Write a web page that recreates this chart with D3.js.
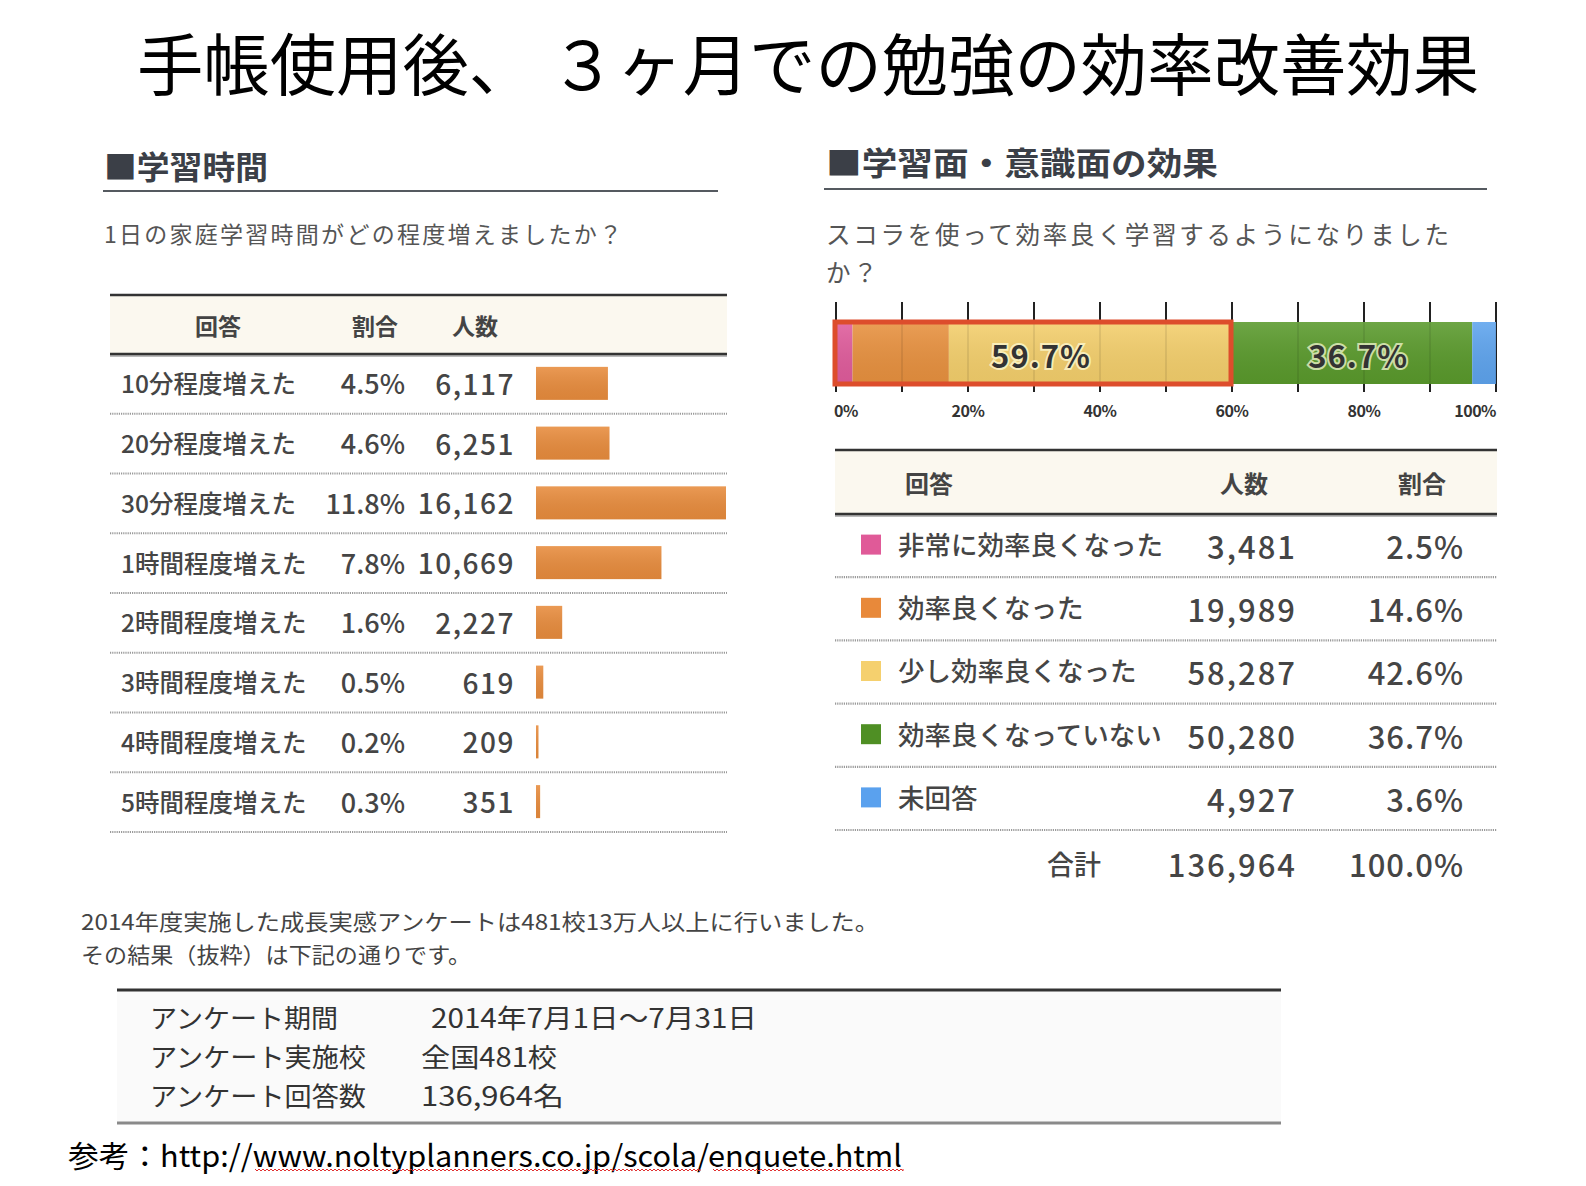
<!DOCTYPE html>
<html lang="ja">
<head>
<meta charset="utf-8">
<script src="https://cdn.jsdelivr.net/npm/d3@7"></script>
<style>
  html, body { margin: 0; padding: 0; background: #fff; }
  svg { display: block; }
  text { font-family: "Noto Sans CJK JP", "Noto Sans", sans-serif; }
</style>
</head>
<body>
<svg id="chart" width="1586" height="1186"></svg>
<script>
// ---------------- DATA ----------------
const titleText = "手帳使用後、 ３ヶ月での勉強の効率改善効果";

const leftHeading = "■学習時間";
const leftQuestion = "1日の家庭学習時間がどの程度増えましたか？";
const leftHeaders = ["回答", "割合", "人数"];
const timeCategories = ["10分程度増えた", "20分程度増えた", "30分程度増えた", "1時間程度増えた",
                        "2時間程度増えた", "3時間程度増えた", "4時間程度増えた", "5時間程度増えた"];
const timePercents = [4.5, 4.6, 11.8, 7.8, 1.6, 0.5, 0.2, 0.3];
const timeCounts = [6117, 6251, 16162, 10669, 2227, 619, 209, 351];

const rightHeading = "■学習面・意識面の効果";
const rightQuestion = ["スコラを使って効率良く学習するようになりました", "か？"];
const rightHeaders = ["回答", "人数", "割合"];
const effectCategories = ["非常に効率良くなった", "効率良くなった", "少し効率良くなった", "効率良くなっていない", "未回答"];
const effectCounts = [3481, 19989, 58287, 50280, 4927];
const effectPercents = [2.5, 14.6, 42.6, 36.7, 3.6];
const effectTotalLabel = "合計";
const effectTotalCount = 136964;
const effectTotalPercent = 100.0;
const groupedPercent = 59.7;   // 非常に + 効率良く + 少し
const axisTickValues = [0, 10, 20, 30, 40, 50, 60, 70, 80, 90, 100];
const axisTickLabels = ["0%", "20%", "40%", "60%", "80%", "100%"];

const noteLines = ["2014年度実施した成長実感アンケートは481校13万人以上に行いました。",
                   "その結果（抜粋）は下記の通りです。"];
const surveyKeys = ["アンケート期間", "アンケート実施校", "アンケート回答数"];
const surveyValues = ["2014年7月1日～7月31日", "全国481校", "136,964名"];
const sourceText = "参考：http://www.noltyplanners.co.jp/scola/enquete.html";

// ---------------- STYLES ----------------
const segColors = ["#e05c9c", "#e8913f", "#f4cf6c", "#5a9a2c", "#5ea4ee"];
const legendColors = ["#e05a98", "#e8893a", "#f5d06e", "#4f8f24", "#5aa1ee"];
const barColor = "#e88c3d";
const textColor = "#454545";
const fmt = d3.format(",");

const svg = d3.select("#chart");
const defs = svg.append("defs");

const sheen = defs.append("linearGradient").attr("id", "sheen").attr("x1", 0).attr("y1", 0).attr("x2", 0).attr("y2", 1);
sheen.append("stop").attr("offset", "0%").attr("stop-color", "#fff").attr("stop-opacity", 0.12);
sheen.append("stop").attr("offset", "100%").attr("stop-color", "#000").attr("stop-opacity", 0.06);

// ---------------- TITLE ----------------
svg.append("text")
  .attr("x", 137).attr("y", 60)
  .attr("dominant-baseline", "central")
  .attr("font-size", 67)
  .attr("textLength", 1342).attr("lengthAdjust", "spacingAndGlyphs")
  .attr("fill", "#000")
  .text(titleText);

// ---------------- LEFT SECTION ----------------
svg.append("text").attr("x", 104).attr("y", 165).attr("dominant-baseline", "central")
  .attr("font-size", 32).attr("font-weight", 700).attr("fill", "#3b3f47")
  .attr("textLength", 164).attr("lengthAdjust", "spacingAndGlyphs").text(leftHeading);
svg.append("line").attr("x1", 103).attr("x2", 718).attr("y1", 191).attr("y2", 191)
  .attr("stroke", "#555a60").attr("stroke-width", 2);
svg.append("text").attr("x", 104).attr("y", 233).attr("dominant-baseline", "central")
  .attr("font-size", 23).attr("fill", "#555").attr("textLength", 518).attr("lengthAdjust", "spacing")
  .text(leftQuestion);

const lt = { x0: 110, x1: 727, top: 295, headBottom: 354, bottom: 832 };
svg.append("rect").attr("x", lt.x0).attr("y", lt.top).attr("width", lt.x1 - lt.x0)
  .attr("height", lt.headBottom - lt.top).attr("fill", "#fbf8ef");
svg.append("line").attr("x1", lt.x0).attr("x2", lt.x1).attr("y1", lt.top).attr("y2", lt.top)
  .attr("stroke", "#333").attr("stroke-width", 2.5);
svg.append("line").attr("x1", lt.x0).attr("x2", lt.x1).attr("y1", lt.headBottom + 2).attr("y2", lt.headBottom + 2)
  .attr("stroke", "#bbb").attr("stroke-width", 2);
svg.append("line").attr("x1", lt.x0).attr("x2", lt.x1).attr("y1", lt.headBottom).attr("y2", lt.headBottom)
  .attr("stroke", "#333").attr("stroke-width", 2.5);

const leftHeaderX = [218, 375, 475];
svg.selectAll(".lh").data(leftHeaders).join("text")
  .attr("x", (d, i) => leftHeaderX[i]).attr("y", (lt.top + lt.headBottom) / 2)
  .attr("text-anchor", "middle").attr("dominant-baseline", "central")
  .attr("font-size", 23).attr("font-weight", 700).attr("fill", "#444").text(d => d);

const yLeft = d3.scaleBand().domain(timeCategories).range([lt.headBottom, lt.bottom]);
const xLeft = d3.scaleLinear().domain([0, d3.max(timeCounts)]).range([536, 726]);

const lrows = svg.selectAll(".lrow").data(timeCategories).join("g").attr("class", "lrow")
  .attr("transform", d => `translate(0,${yLeft(d)})`);
const bw = yLeft.bandwidth();
lrows.append("text").attr("x", 121).attr("y", bw / 2 - 1).attr("dominant-baseline", "central")
  .attr("font-size", 24.5).attr("font-weight", 500).attr("fill", textColor).text(d => d);
lrows.append("text").attr("x", 405).attr("y", bw / 2 - 1).attr("dominant-baseline", "central")
  .attr("text-anchor", "end").attr("font-size", 27).attr("font-weight", 500).attr("fill", textColor)
  .text((d, i) => timePercents[i].toFixed(1) + "%");
lrows.append("text").attr("x", 515).attr("y", bw / 2 - 1).attr("dominant-baseline", "central")
  .attr("text-anchor", "end").attr("font-size", 28).attr("font-weight", 500).attr("fill", textColor)
  .attr("letter-spacing", 1.5)
  .text((d, i) => fmt(timeCounts[i]));
lrows.append("rect").attr("x", xLeft(0)).attr("y", bw / 2 - 17)
  .attr("width", (d, i) => Math.max(2, xLeft(timeCounts[i]) - xLeft(0))).attr("height", 33)
  .attr("fill", barColor);
lrows.append("rect").attr("x", xLeft(0)).attr("y", bw / 2 - 17)
  .attr("width", (d, i) => Math.max(2, xLeft(timeCounts[i]) - xLeft(0))).attr("height", 33)
  .attr("fill", "url(#sheen)");
lrows.append("line").attr("x1", lt.x0).attr("x2", lt.x1).attr("y1", bw).attr("y2", bw)
  .attr("stroke", "#9a9a9a").attr("stroke-width", 2.2).attr("stroke-dasharray", "1.2,1");

// ---------------- RIGHT SECTION ----------------
svg.append("text").attr("x", 826).attr("y", 161).attr("dominant-baseline", "central")
  .attr("font-size", 32).attr("font-weight", 700).attr("fill", "#3b3f47")
  .attr("textLength", 392).attr("lengthAdjust", "spacingAndGlyphs").text(rightHeading);
svg.append("line").attr("x1", 824).attr("x2", 1487).attr("y1", 189).attr("y2", 189)
  .attr("stroke", "#555a60").attr("stroke-width", 2);
svg.append("text").attr("x", 826).attr("y", 233).attr("dominant-baseline", "central")
  .attr("font-size", 24.5).attr("fill", "#555").attr("textLength", 623).attr("lengthAdjust", "spacing")
  .text(rightQuestion[0]);
svg.append("text").attr("x", 826).attr("y", 271).attr("dominant-baseline", "central")
  .attr("font-size", 24.5).attr("fill", "#555").attr("letter-spacing", 2.5).text(rightQuestion[1]);

// stacked bar
const xBar = d3.scaleLinear().domain([0, 100]).range([836, 1496]);
const barTop = 322, barH = 62;
const stack = [];
let acc = 0;
effectPercents.forEach((p, i) => { stack.push({ start: acc, end: acc + p, i }); acc += p; });

svg.selectAll(".tk").data(axisTickValues).join("line")
  .attr("x1", d => xBar(d)).attr("x2", d => xBar(d))
  .attr("y1", 302).attr("y2", 392)
  .attr("stroke", "#222").attr("stroke-width", 2);

svg.selectAll(".seg").data(stack).join("rect")
  .attr("x", d => xBar(d.start)).attr("y", barTop)
  .attr("width", d => xBar(d.end) - xBar(d.start)).attr("height", barH)
  .attr("fill", d => segColors[d.i]);
svg.append("rect").attr("x", xBar(0)).attr("y", barTop).attr("width", xBar(100) - xBar(0))
  .attr("height", barH).attr("fill", "url(#sheen)");
svg.selectAll(".tk2").data(axisTickValues).join("line")
  .attr("x1", d => xBar(d)).attr("x2", d => xBar(d))
  .attr("y1", barTop).attr("y2", barTop + barH)
  .attr("stroke", "#000").attr("stroke-opacity", 0.08).attr("stroke-width", 2);
svg.append("rect").attr("x", xBar(0) - 1).attr("y", barTop)
  .attr("width", xBar(groupedPercent) - xBar(0) + 2).attr("height", barH)
  .attr("fill", "none").attr("stroke", "#dd4d2c").attr("stroke-width", 5);

const barLabels = [
  { v: groupedPercent, cx: (xBar(0) + xBar(groupedPercent)) / 2 + 8 },
  { v: effectPercents[3], cx: (xBar(stack[3].start) + xBar(stack[3].end)) / 2 + 7 }
];
svg.selectAll(".bl").data(barLabels).join("text")
  .attr("x", d => d.cx).attr("y", barTop + barH / 2 + 1)
  .attr("text-anchor", "middle").attr("dominant-baseline", "central")
  .attr("font-size", 31).attr("font-weight", 700).attr("fill", "#333")
  .attr("letter-spacing", 1)
  .attr("stroke", "rgba(255,255,220,0.7)").attr("stroke-width", 4).attr("paint-order", "stroke")
  .text(d => d.v.toFixed(1) + "%");

svg.selectAll(".tl").data(axisTickLabels).join("text")
  .attr("x", (d, i) => xBar(i * 20) + (i === 0 ? -2 : 0))
  .attr("y", 410)
  .attr("text-anchor", (d, i) => i === 0 ? "start" : (i === axisTickLabels.length - 1 ? "end" : "middle"))
  .attr("dominant-baseline", "central")
  .attr("font-size", 16).attr("font-weight", 700).attr("fill", "#333")
  .attr("letter-spacing", -0.5).text(d => d);

// right table
const rt = { x0: 835, x1: 1497, top: 450, headBottom: 514, bottom: 830 };
svg.append("rect").attr("x", rt.x0).attr("y", rt.top).attr("width", rt.x1 - rt.x0)
  .attr("height", rt.headBottom - rt.top).attr("fill", "#fbf8ef");
svg.append("line").attr("x1", rt.x0).attr("x2", rt.x1).attr("y1", rt.top).attr("y2", rt.top)
  .attr("stroke", "#333").attr("stroke-width", 2.5);
svg.append("line").attr("x1", rt.x0).attr("x2", rt.x1).attr("y1", rt.headBottom + 2).attr("y2", rt.headBottom + 2)
  .attr("stroke", "#bbb").attr("stroke-width", 2);
svg.append("line").attr("x1", rt.x0).attr("x2", rt.x1).attr("y1", rt.headBottom).attr("y2", rt.headBottom)
  .attr("stroke", "#333").attr("stroke-width", 2.5);
const rightHeaderX = [929, 1244, 1422];
svg.selectAll(".rh").data(rightHeaders).join("text")
  .attr("x", (d, i) => rightHeaderX[i]).attr("y", (rt.top + rt.headBottom) / 2)
  .attr("text-anchor", "middle").attr("dominant-baseline", "central")
  .attr("font-size", 24).attr("font-weight", 700).attr("fill", "#444").text(d => d);

const yRight = d3.scaleBand().domain(effectCategories).range([rt.headBottom, rt.bottom]);
const rbw = yRight.bandwidth();
const rrows = svg.selectAll(".rrow").data(effectCategories).join("g").attr("class", "rrow")
  .attr("transform", d => `translate(0,${yRight(d)})`);
rrows.append("rect").attr("x", 861).attr("y", rbw / 2 - 11).attr("width", 20).attr("height", 20)
  .attr("fill", (d, i) => legendColors[i]);
rrows.append("text").attr("x", 898).attr("y", rbw / 2 - 2).attr("dominant-baseline", "central")
  .attr("font-size", 26.5).attr("font-weight", 500).attr("fill", textColor).text(d => d);
rrows.append("text").attr("x", 1297).attr("y", rbw / 2).attr("dominant-baseline", "central")
  .attr("text-anchor", "end").attr("font-size", 31).attr("font-weight", 500).attr("fill", textColor)
  .attr("letter-spacing", 2)
  .text((d, i) => fmt(effectCounts[i]));
rrows.append("text").attr("x", 1464).attr("y", rbw / 2).attr("dominant-baseline", "central")
  .attr("text-anchor", "end").attr("font-size", 31).attr("font-weight", 500).attr("fill", textColor)
  .attr("letter-spacing", 1)
  .text((d, i) => effectPercents[i].toFixed(1) + "%");
rrows.append("line").attr("x1", rt.x0).attr("x2", rt.x1).attr("y1", rbw).attr("y2", rbw)
  .attr("stroke", "#9a9a9a").attr("stroke-width", 2.2).attr("stroke-dasharray", "1.2,1");

svg.append("text").attr("x", 1074).attr("y", 863).attr("text-anchor", "middle").attr("dominant-baseline", "central")
  .attr("font-size", 27).attr("font-weight", 500).attr("fill", textColor).text(effectTotalLabel);
svg.append("text").attr("x", 1297).attr("y", 863).attr("text-anchor", "end").attr("dominant-baseline", "central")
  .attr("font-size", 31).attr("font-weight", 500).attr("fill", textColor).attr("letter-spacing", 2)
  .text(fmt(effectTotalCount));
svg.append("text").attr("x", 1464).attr("y", 863).attr("text-anchor", "end").attr("dominant-baseline", "central")
  .attr("font-size", 31).attr("font-weight", 500).attr("fill", textColor).attr("letter-spacing", 1)
  .text(effectTotalPercent.toFixed(1) + "%");

// ---------------- NOTES ----------------
const noteY = [920, 953];
const noteLen = [798, 390];
svg.selectAll(".note").data(noteLines).join("text")
  .attr("x", 81).attr("y", (d, i) => noteY[i]).attr("dominant-baseline", "central")
  .attr("font-size", 22).attr("fill", "#444")
  .attr("textLength", (d, i) => noteLen[i])
  .attr("lengthAdjust", "spacingAndGlyphs")
  .text(d => d);

svg.append("rect").attr("x", 117).attr("y", 990).attr("width", 1164).attr("height", 133).attr("fill", "#fafafa");
svg.append("line").attr("x1", 117).attr("x2", 1281).attr("y1", 990).attr("y2", 990)
  .attr("stroke", "#333").attr("stroke-width", 3);
svg.append("line").attr("x1", 117).attr("x2", 1281).attr("y1", 1123).attr("y2", 1123)
  .attr("stroke", "#8a8a8a").attr("stroke-width", 3);
const surveyY = [1016, 1055, 1094];
const surveyKeyLen = [188, 216, 216];
const surveyValX = [431, 421, 421];
const surveyValLen = [326, 136, 143];
svg.selectAll(".sk").data(surveyKeys).join("text")
  .attr("x", 150).attr("y", (d, i) => surveyY[i]).attr("dominant-baseline", "central")
  .attr("font-size", 26.5).attr("fill", "#333")
  .attr("textLength", (d, i) => surveyKeyLen[i]).attr("lengthAdjust", "spacingAndGlyphs").text(d => d);
svg.selectAll(".sv").data(surveyValues).join("text")
  .attr("x", (d, i) => surveyValX[i]).attr("y", (d, i) => surveyY[i]).attr("dominant-baseline", "central")
  .attr("font-size", 26.5).attr("fill", "#333")
  .attr("textLength", (d, i) => surveyValLen[i]).attr("lengthAdjust", "spacingAndGlyphs").text(d => d);

// ---------------- SOURCE ----------------
svg.append("text").attr("x", 68).attr("y", 1154).attr("dominant-baseline", "central")
  .attr("font-size", 30).attr("fill", "#000")
  .attr("textLength", 834).attr("lengthAdjust", "spacingAndGlyphs").text(sourceText);
function wavy(x0, x1, y) {
  let p = `M${x0},${y}`;
  for (let x = x0; x < x1; x += 4) p += ` L${Math.min(x + 2, x1)},${y + 2} L${Math.min(x + 4, x1)},${y}`;
  return p;
}
[[255, 632], [634, 700], [713, 903]].forEach(s => {
  svg.append("path").attr("d", wavy(s[0], s[1], 1169)).attr("fill", "none")
    .attr("stroke", "#e03030").attr("stroke-width", 1);
});
</script>
</body>
</html>
